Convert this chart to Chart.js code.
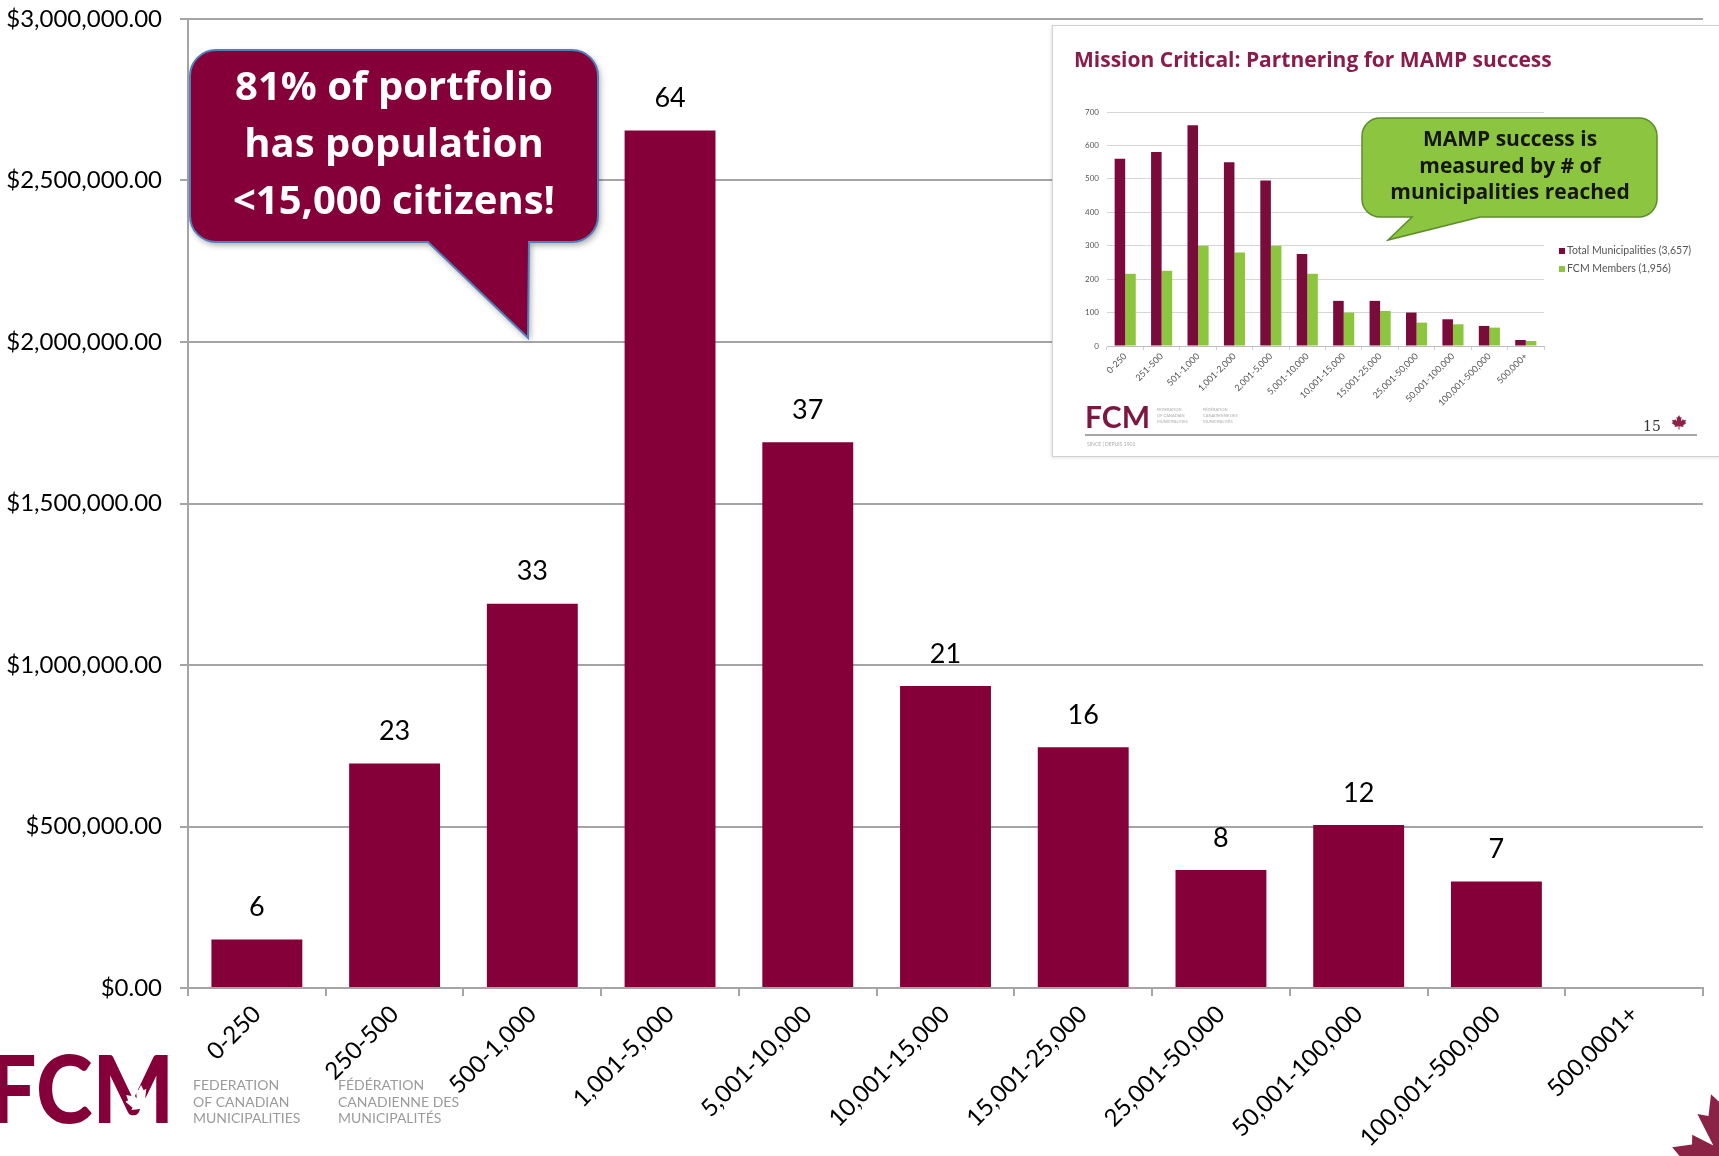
<!DOCTYPE html>
<html>
<head>
<meta charset="utf-8">
<script src="https://cdn.jsdelivr.net/npm/chart.js@4.4.1/dist/chart.umd.min.js"></script>
<style>
  html, body { margin: 0; padding: 0; background: #fff; }
  #wrap { position: relative; width: 1719px; height: 1156px; overflow: hidden; }
  #main { position: absolute; left: 0; top: 0; width: 1719px; height: 1156px; }
  #inset { position: absolute; left: 1052px; top: 25px; width: 680px; height: 430px;
           background: #fff; border: 1px solid #d2d2d2; box-shadow: -1px 1px 3px rgba(0,0,0,0.12);
           filter: blur(0.5px); }
  #insetBox { position: relative; width: 680px; height: 430px; }
</style>
</head>
<body>
<div id="wrap">
  <div id="main"><canvas id="mainChart"></canvas></div>
  <div id="inset"><div id="insetBox"><canvas id="insetChart"></canvas></div></div>
</div>
<script>
// main chart data
const categories = ["0-250", "250-500", "500-1,000", "1,001-5,000", "5,001-10,000", "10,001-15,000",
                    "15,001-25,000", "25,001-50,000", "50,001-100,000", "100,001-500,000", "500,0001+"];
const funding = [150000, 695000, 1190000, 2655000, 1690000, 935000, 745000, 365000, 505000, 330000, null];
const projectCounts = [6, 23, 33, 64, 37, 21, 16, 8, 12, 7, null];

// inset (screenshot of another slide)
const insetCategories = ["0-250", "251-500", "501-1,000", "1,001-2,000", "2,001-5,000", "5,001-10,000",
                         "10,001-15,000", "15,001-25,000", "25,001-50,000", "50,001-100,000", "100,001-500,000", "500,000+"];
const totalMunicipalities = [560, 580, 660, 550, 495, 275, 135, 135, 100, 80, 60, 18];
const fcmMembers = [216, 225, 300, 280, 300, 216, 100, 105, 70, 65, 55, 15];

const MAROON = "#850038";
Chart.defaults.font.family = "Lato";
Chart.defaults.color = "#000";

function calloutPath(ctx, x0, y0, x1, y1, r, a, b, tx, ty) {
    ctx.beginPath();
    ctx.moveTo(x0 + r, y0);
    ctx.lineTo(x1 - r, y0);
    ctx.arcTo(x1, y0, x1, y0 + r, r);
    ctx.lineTo(x1, y1 - r);
    ctx.arcTo(x1, y1, x1 - r, y1, r);
    ctx.lineTo(b, y1);
    ctx.lineTo(tx, ty);
    ctx.lineTo(a, y1);
    ctx.lineTo(x0 + r, y1);
    ctx.arcTo(x0, y1, x0, y1 - r, r);
    ctx.lineTo(x0, y0 + r);
    ctx.arcTo(x0, y0, x0 + r, y0, r);
    ctx.closePath();
}

const leafPts = [[0, -1], [0.14, -0.72], [0.28, -0.8], [0.22, -0.3], [0.45, -0.55], [0.5, -0.42],
                 [0.78, -0.48], [0.68, -0.2], [0.82, -0.12], [0.45, 0.18], [0.5, 0.32], [0.05, 0.26], [0.06, 0.62]];
function drawLeaf(ctx, cx, cy, s, rot, color) {
    const pts = leafPts.concat(leafPts.slice().reverse().map(p => [-p[0], p[1]]));
    ctx.save();
    ctx.translate(cx, cy);
    ctx.rotate(rot);
    ctx.beginPath();
    pts.forEach((p, i) => i ? ctx.lineTo(p[0] * s, p[1] * s) : ctx.moveTo(p[0] * s, p[1] * s));
    ctx.closePath();
    ctx.fillStyle = color;
    ctx.fill();
    ctx.restore();
}

// labels above bars
const countLabels = {
    id: "countLabels",
    afterDatasetsDraw(chart) {
        const ctx = chart.ctx;
        ctx.save();
        ctx.font = "27px Lato";
        ctx.fillStyle = "#000";
        ctx.textAlign = "center";
        ctx.textBaseline = "middle";
        chart.getDatasetMeta(0).data.forEach((bar, i) => {
            if (projectCounts[i] == null) return;
            ctx.fillText(String(projectCounts[i]), bar.x, bar.y - 32);
        });
        ctx.restore();
    }
};

// logos in the corners, callout over the plot
const slideLogos = {
    id: "slideLogos",
    beforeDraw(chart) {
        const ctx = chart.ctx;
        ctx.save();
        ctx.font = "900 94px Lato";
        ctx.fillStyle = MAROON;
        ctx.textBaseline = "alphabetic";
        const w = ctx.measureText("FCM").width;
        ctx.translate(-12, 1123);
        ctx.scale(186 / w, 1);
        ctx.fillText("FCM", 0, 0);
        ctx.restore();
        drawLeaf(ctx, 141, 1104, 19, 0, "#fff");

        ctx.save();
        ctx.font = "14px Lato";
        ctx.fillStyle = "#9b9b9b";
        ["FEDERATION", "OF CANADIAN", "MUNICIPALITIES"].forEach((t, i) => ctx.fillText(t, 193, 1090 + i * 16.5));
        ["FÉDÉRATION", "CANADIENNE DES", "MUNICIPALITÉS"].forEach((t, i) => ctx.fillText(t, 338, 1090 + i * 16.5));
        ctx.restore();

        drawLeaf(ctx, 1735, 1160, 70, -0.35, "#8b2346");
    },
    afterDraw(chart) {
        const ctx = chart.ctx;
        ctx.save();
        ctx.shadowColor = "rgba(0,0,0,0.35)";
        ctx.shadowBlur = 6;
        ctx.shadowOffsetX = 2;
        ctx.shadowOffsetY = 3;
        calloutPath(ctx, 190, 50, 598, 242, 26, 428, 529, 528, 338);
        ctx.fillStyle = MAROON;
        ctx.fill();
        ctx.shadowColor = "transparent";
        ctx.strokeStyle = "#4f81bd";
        ctx.lineWidth = 2;
        ctx.stroke();
        ctx.font = "bold 40px 'Open Sans'";
        ctx.fillStyle = "#fff";
        ctx.textAlign = "center";
        ctx.textBaseline = "middle";
        ctx.fillText("81% of portfolio", 394, 89);
        ctx.fillText("has population", 394, 146);
        ctx.fillText("<15,000 citizens!", 394, 203);
        ctx.restore();
    }
};

new Chart(document.getElementById("mainChart"), {
    type: "bar",
    data: {
        labels: categories,
        datasets: [{
            label: "Funding",
            data: funding,
            backgroundColor: MAROON,
            categoryPercentage: 1,
            barPercentage: 0.66,
        }],
    },
    options: {
        responsive: true,
        maintainAspectRatio: false,
        animation: false,
        layout: { padding: { top: 19, right: 16, left: 0, bottom: 0 } },
        plugins: { legend: { display: false }, tooltip: { enabled: false } },
        scales: {
            x: {
                grid: { drawOnChartArea: false, color: "#a5a5a5", lineWidth: 2, tickLength: 8 },
                border: { color: "#a5a5a5", width: 2 },
                ticks: { autoSkip: false, minRotation: 45, maxRotation: 45, padding: 4,
                         font: { size: 24 }, color: "#000" },
                afterFit: s => { s.height = 168; s.paddingTop = 0; }
            },
            y: {
                min: 0,
                max: 3000000,
                grid: { color: "#a5a5a5", lineWidth: 2, tickLength: 8 },
                border: { color: "#a5a5a5", width: 2 },
                ticks: {
                    stepSize: 500000,
                    padding: 18,
                    font: { size: 24 },
                    color: "#000",
                    callback: v => "$" + v.toLocaleString("en-US", { minimumFractionDigits: 2, maximumFractionDigits: 2 })
                },
                afterFit: s => { s.width = 188; s.paddingTop = 0; s.paddingBottom = 0; }
            }
        }
    },
    plugins: [countLabels, slideLogos]
});

// decorations of the inset slide
const insetDecor = {
    id: "insetDecor",
    afterDraw(chart) {
        const ctx = chart.ctx;
        ctx.save();
        ctx.font = "bold 21px 'Open Sans'";
        ctx.fillStyle = "#8a1c4b";
        ctx.fillText("Mission Critical: Partnering for MAMP success", 21, 41);

        calloutPath(ctx, 309, 92, 604, 191, 18, 359, 427, 335, 214);
        ctx.fillStyle = "#8cc540";
        ctx.fill();
        ctx.strokeStyle = "#5b8c2a";
        ctx.lineWidth = 1.5;
        ctx.stroke();
        ctx.font = "bold 21px 'Open Sans'";
        ctx.fillStyle = "#161616";
        ctx.textAlign = "center";
        ctx.textBaseline = "middle";
        ctx.fillText("MAMP success is", 457, 114);
        ctx.fillText("measured by # of", 457, 141);
        ctx.fillText("municipalities reached", 457, 167);

        ctx.textAlign = "left";
        ctx.font = "10.5px Lato";
        chart.data.datasets.forEach((ds, i) => {
            const y = 225 + i * 18;
            ctx.fillStyle = ds.backgroundColor;
            ctx.fillRect(506, y - 3, 6, 6);
            ctx.fillStyle = "#555";
            ctx.fillText(ds.label, 514, y);
        });

        ctx.textBaseline = "alphabetic";
        ctx.font = "bold 30px Lato";
        ctx.fillStyle = "#7c1741";
        ctx.fillText("FCM", 32, 402);
        ctx.font = "4px Lato";
        ctx.fillStyle = "#aaa";
        ["FEDERATION", "OF CANADIAN", "MUNICIPALITIES"].forEach((t, i) => ctx.fillText(t, 104, 385 + i * 6));
        ["FÉDÉRATION", "CANADIENNE DES", "MUNICIPALITÉS"].forEach((t, i) => ctx.fillText(t, 150, 385 + i * 6));

        ctx.strokeStyle = "#8a8a8a";
        ctx.lineWidth = 1.5;
        ctx.beginPath();
        ctx.moveTo(32, 409);
        ctx.lineTo(644, 409);
        ctx.stroke();
        ctx.font = "5px Lato";
        ctx.fillStyle = "#aaa";
        ctx.fillText("SINCE | DEPUIS 1901", 34, 420);
        ctx.font = "14px 'DejaVu Serif'";
        ctx.fillStyle = "#333";
        ctx.fillText("15", 590, 405);
        ctx.restore();
        drawLeaf(ctx, 626, 398, 9, 0, "#8b2346");
    }
};

new Chart(document.getElementById("insetChart"), {
    type: "bar",
    data: {
        labels: insetCategories,
        datasets: [{
            label: "Total Municipalities (3,657)",
            data: totalMunicipalities,
            backgroundColor: "#7a0c3c",
            categoryPercentage: 0.58,
            barPercentage: 1,
        }, {
            label: "FCM Members (1,956)",
            data: fcmMembers,
            backgroundColor: "#8cc63e",
            categoryPercentage: 0.58,
            barPercentage: 1,
        }],
    },
    options: {
        responsive: true,
        maintainAspectRatio: false,
        animation: false,
        layout: { padding: { top: 86, right: 189, left: 24, bottom: 0 } },
        plugins: { legend: { display: false }, tooltip: { enabled: false } },
        scales: {
            x: {
                grid: { drawOnChartArea: false, color: "#cfcfcf", tickLength: 4 },
                border: { color: "#bdbdbd" },
                ticks: { autoSkip: false, minRotation: 45, maxRotation: 45, padding: 1,
                         font: { size: 9 }, color: "#555" },
                afterFit: s => { s.height = 110; }
            },
            y: {
                min: 0,
                max: 700,
                grid: { color: "#d6d6d6", tickLength: 0 },
                border: { display: false },
                ticks: { stepSize: 100, padding: 8, font: { size: 8 }, color: "#555" },
                afterFit: s => { s.width = 30; }
            }
        }
    },
    plugins: [insetDecor]
});
</script>
</body>
</html>
